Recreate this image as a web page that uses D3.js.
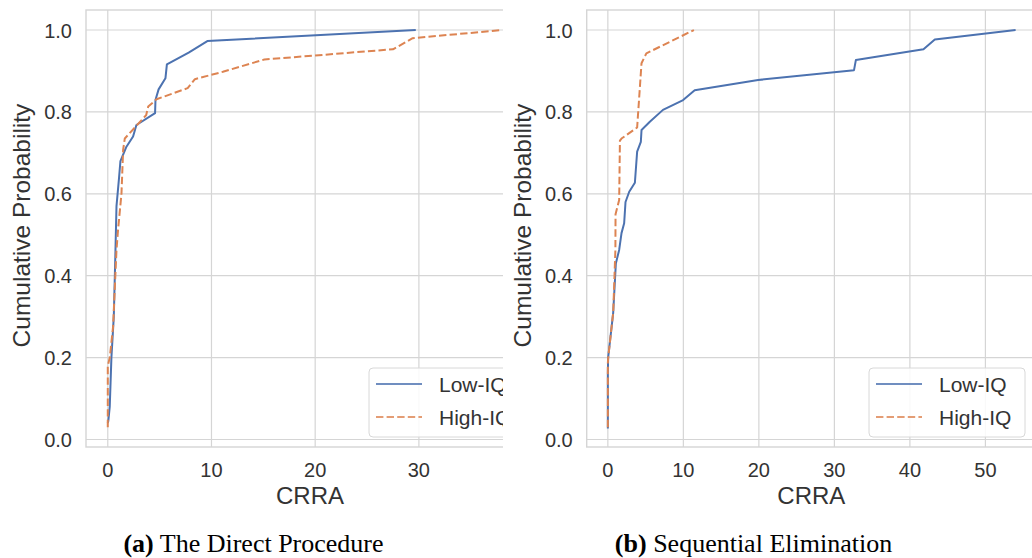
<!DOCTYPE html>
<html>
<head>
<meta charset="utf-8">
<script src="https://cdn.jsdelivr.net/npm/d3@7"></script>
<style>
  html, body { margin: 0; padding: 0; background: #ffffff; }
  svg { display: block; }
</style>
</head>
<body>
<svg id="chart" width="1032" height="558"></svg>
<script>
// ---- Data (CRRA value, cumulative probability) ----
const directLowIQ = [
  [0.0,0.04],[0.05,0.045],[0.19,0.08],[0.35,0.20],[0.58,0.30],[0.74,0.46],[0.84,0.57],
  [1.09,0.64],[1.22,0.68],[1.8,0.715],[2.44,0.74],[2.76,0.768],[4.56,0.797],[4.6,0.829],
  [4.9,0.855],[5.56,0.882],[5.7,0.916],[7.8,0.945],[9.6,0.973],[29.7,1.0]
];
const directHighIQ = [
  [0,0.03],[0,0.18],[0.19,0.20],[0.51,0.275],[0.84,0.463],[0.99,0.512],[1.32,0.60],
  [1.48,0.707],[1.64,0.735],[2.83,0.768],[3.7,0.792],[3.9,0.813],[4.7,0.831],[7.7,0.858],
  [8.4,0.880],[11.1,0.898],[15.1,0.928],[27.5,0.953],[29.4,0.98],[38,1.0]
];
const seqLowIQ = [
  [0,0.027],[0,0.162],[0.04,0.20],[0.71,0.31],[1.06,0.43],[1.5,0.463],[1.81,0.504],
  [2.16,0.528],[2.34,0.58],[2.83,0.605],[3.58,0.627],[3.88,0.703],[4.37,0.727],[4.46,0.756],
  [5.56,0.776],[7.3,0.805],[9.97,0.829],[11.5,0.853],[19.9,0.878],[32.6,0.902],[32.85,0.927],
  [41.8,0.953],[43.3,0.977],[54,1.0]
];
const seqHighIQ = [
  [0,0.03],[0,0.186],[0.05,0.20],[0.71,0.31],[1.0,0.463],[1.02,0.55],[1.5,0.585],
  [1.6,0.73],[1.81,0.735],[3.88,0.762],[4.46,0.919],[5.1,0.943],[11.4,1.0]
];
const seriesNames = ["Low-IQ", "High-IQ"];
const yTicks = [0.0, 0.2, 0.4, 0.6, 0.8, 1.0];
const xTicksDirect = [0, 10, 20, 30];
const xTicksSeq = [0, 10, 20, 30, 40, 50];
const xLabel = "CRRA";
const yLabel = "Cumulative Probability";
const captionsBold = ["(a)", "(b)"];
const captionsText = ["The Direct Procedure", "Sequential Elimination"];

// ---- Styles ----
const colors = ["#4c72b0", "#dd8452"];
const gridColor = "#d5d5d5";
const textColor = "#333333";
const sans = "'Liberation Sans', Arial, sans-serif";
const serif = "'Liberation Serif', 'Times New Roman', serif";

const svg = d3.select("#chart");
svg.append("rect").attr("width", 1032).attr("height", 558).attr("fill", "#fff");

function panel(cfg, idx) {
  const top = 10, bottom = 447;
  const x = d3.scaleLinear().domain(cfg.xDomain).range([cfg.left, cfg.right]);
  const y = d3.scaleLinear().domain([-0.0183, 1.0489]).range([bottom, top]);
  const clipId = "clip" + idx;
  svg.append("clipPath").attr("id", clipId).append("rect")
    .attr("x", cfg.left - 1).attr("y", top - 1)
    .attr("width", cfg.clipRight - cfg.left + 1).attr("height", bottom - top + 2);
  const g = svg.append("g").attr("clip-path", `url(#${clipId})`);

  // grid
  g.selectAll(".gx").data(cfg.xTicks).join("line")
    .attr("x1", d => x(d)).attr("x2", d => x(d)).attr("y1", top).attr("y2", bottom)
    .attr("stroke", gridColor).attr("stroke-width", 1.2);
  g.selectAll(".gy").data(yTicks).join("line")
    .attr("x1", cfg.left).attr("x2", cfg.right).attr("y1", d => y(d)).attr("y2", d => y(d))
    .attr("stroke", gridColor).attr("stroke-width", 1.2);
  // frame
  g.append("rect").attr("x", cfg.left).attr("y", top)
    .attr("width", cfg.right - cfg.left).attr("height", bottom - top)
    .attr("fill", "none").attr("stroke", gridColor).attr("stroke-width", 1.4);

  const line = d3.line().x(d => x(d[0])).y(d => y(d[1]));
  cfg.series.forEach((s, i) => {
    g.append("path").datum(s).attr("d", line)
      .attr("fill", "none").attr("stroke", colors[i]).attr("stroke-width", 2)
      .attr("stroke-linejoin", "round")
      .attr("stroke-dasharray", i === 1 ? "7.4,3.2" : null);
  });

  // legend
  const lx = cfg.legendX, ly = 368;
  const lg = g.append("g");
  lg.append("rect").attr("x", lx).attr("y", ly).attr("width", 156).attr("height", 69)
    .attr("rx", 4).attr("fill", "#fff").attr("fill-opacity", 0.85)
    .attr("stroke", "#d8d8d8").attr("stroke-width", 1);
  seriesNames.forEach((n, i) => {
    const ry = ly + 16 + i * 33;
    lg.append("line").attr("x1", lx + 7).attr("x2", lx + 53).attr("y1", ry).attr("y2", ry)
      .attr("stroke", colors[i]).attr("stroke-width", 2).attr("stroke-opacity", 0.8)
      .attr("stroke-dasharray", i === 1 ? "7.4,3.2" : null);
    lg.append("text").attr("x", lx + 70).attr("y", ry + 7.5).text(n)
      .attr("font-family", sans).attr("font-size", 21).attr("fill", textColor);
  });

  // tick labels
  svg.append("g").selectAll("text").data(yTicks).join("text")
    .attr("x", cfg.left - 14).attr("y", d => y(d) + 7.5)
    .attr("text-anchor", "end").attr("font-family", sans).attr("font-size", 20)
    .attr("fill", textColor).text(d => d3.format(".1f")(d));
  svg.append("g").selectAll("text").data(cfg.xTicks).join("text")
    .attr("x", d => x(d)).attr("y", 477)
    .attr("text-anchor", "middle").attr("font-family", sans).attr("font-size", 20)
    .attr("fill", textColor).text(d => d);

  // axis labels
  svg.append("text").attr("x", (cfg.left + cfg.right) / 2).attr("y", 504)
    .attr("text-anchor", "middle").attr("font-family", sans).attr("font-size", 24)
    .attr("fill", textColor).text(xLabel);
  svg.append("text").attr("transform", `translate(${cfg.left - 56},${(top + bottom) / 2 - 3}) rotate(-90)`)
    .attr("text-anchor", "middle").attr("font-family", sans).attr("font-size", 24.5)
    .attr("fill", textColor).text(yLabel);

  // caption
  const cap = svg.append("text").attr("x", cfg.captionX).attr("y", 552)
    .attr("text-anchor", "middle").attr("font-family", serif).attr("font-size", 26)
    .attr("fill", "#000");
  cap.append("tspan").attr("font-weight", "bold").text(captionsBold[idx]);
  cap.append("tspan").text(" " + captionsText[idx]);
}

panel({ left: 86, right: 534, clipRight: 503, xDomain: [-2.1, 41.1], xTicks: xTicksDirect,
        series: [directLowIQ, directHighIQ], legendX: 369, captionX: 253.5 }, 0);
panel({ left: 586.7, right: 1036, clipRight: 1032, xDomain: [-2.8, 56.7], xTicks: xTicksSeq,
        series: [seqLowIQ, seqHighIQ], legendX: 869, captionX: 753.5 }, 1);
</script>
</body>
</html>
